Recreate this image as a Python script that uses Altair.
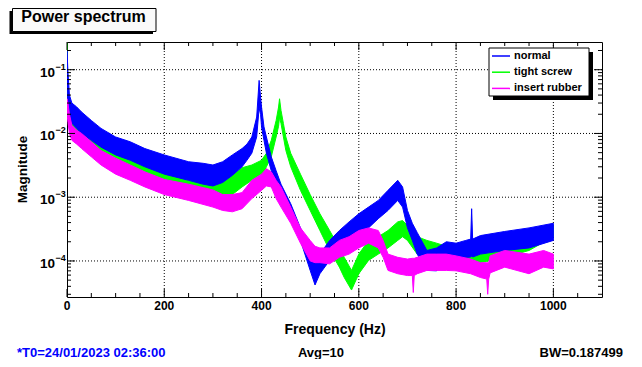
import altair as alt
import pandas as pd

# ---------------- data ----------------
series_names = ["normal", "tight screw", "insert rubber"]
series_colors = ["#0000ff", "#00ff00", "#ff00ff"]

# noise band of each trace: upper (hi) and lower (lo) envelope, per frequency (Hz)
normal_freq = [0, 2, 5, 10, 20, 30, 50, 70, 100, 130, 160, 200, 250, 280, 300, 320, 340, 360, 370, 380,
               390, 395, 398, 400, 405, 410, 420, 430, 440, 460, 480, 500, 510, 520, 540, 560, 580, 600, 620, 640,
               660, 680, 690, 700, 710, 720, 740, 760, 780, 800, 820, 830, 832, 834, 850, 900, 950, 1000]
normal_hi = [0.2, 0.09, 0.04, 0.03, 0.026, 0.0217, 0.016, 0.012, 0.0088, 0.0074,
             0.0058, 0.0046, 0.0036, 0.0034, 0.0032, 0.0036, 0.0046, 0.0058, 0.0068, 0.0088,
             0.0181, 0.068, 0.037, 0.026, 0.0127, 0.0088, 0.0043, 0.0026, 0.0016, 0.00079,
             0.00033, 0.00016, 0.000114, 0.000128, 0.00021, 0.0003, 0.00041, 0.00055, 0.0007, 0.00089,
             0.00128, 0.00184, 0.00145, 0.00062, 0.00039, 0.00028, 0.000146, 0.00016, 0.0002, 0.00019,
             0.00021, 0.00022, 0.00066, 0.00022, 0.00025, 0.00029, 0.00033, 0.00039]
normal_lo = [0.05, 0.03, 0.018, 0.0145, 0.012, 0.010, 0.0078, 0.0061, 0.0046, 0.0038,
             0.0030, 0.0023, 0.00184, 0.0016, 0.0015, 0.0017, 0.0022, 0.0030, 0.0038, 0.0049,
             0.0088, 0.025, 0.02, 0.0127, 0.0078, 0.0049, 0.0026, 0.0016, 0.00095, 0.00043,
             0.00021, 7.1e-5, 4.2e-5, 6.3e-5, 0.000102, 0.000146, 0.00021, 0.00028, 0.00033, 0.00046,
             0.00062, 0.00089, 0.0007, 0.00033, 0.00021, 0.000128, 7.1e-5, 7e-5, 0.0001, 0.0001,
             0.000114, 0.000115, 0.00012, 0.000115, 0.000128, 0.000146, 0.00016, 0.00021]

tight_freq = [0, 2, 5, 10, 20, 30, 50, 70, 100, 119, 121, 123, 130, 160, 200, 250, 300, 340, 360, 380,
              400, 410, 420, 430, 435, 437, 440, 445, 450, 460, 480, 500, 520, 540, 560, 570, 585, 600, 620, 640,
              660, 680, 690, 700, 720, 740, 760, 780, 800, 850, 900, 950, 1000]
tight_hi = [0.26, 0.05, 0.025, 0.019, 0.016, 0.0152, 0.012, 0.0088, 0.0061, 0.0055,
            0.0078, 0.0055, 0.0049, 0.0041, 0.0032, 0.0026, 0.0023, 0.0023, 0.0029, 0.0032,
            0.0038, 0.0049, 0.0078, 0.016, 0.026, 0.035, 0.023, 0.0143, 0.0088, 0.0049,
            0.0023, 0.0011, 0.00055, 0.0003, 0.00016, 0.000114, 7.1e-5, 0.000128, 0.00021, 0.00024,
            0.0003, 0.00041, 0.00043, 0.00036, 0.00024, 0.00021, 0.00019, 0.00017, 0.00016, 0.00019,
            0.00021, 0.00028, 0.00036]
tight_lo = [0.08, 0.02, 0.012, 0.010, 0.0084, 0.0074, 0.0061, 0.0046, 0.0034, 0.0031,
            0.0031, 0.0030, 0.0026, 0.0022, 0.0016, 0.00128, 0.0011, 0.0011, 0.00145, 0.00184,
            0.0021, 0.003, 0.0043, 0.0088, 0.013, 0.018, 0.0143, 0.0088, 0.0054, 0.003,
            0.00128, 0.00062, 0.0003, 0.000146, 8e-5, 5.5e-5, 3.5e-5, 6.3e-5, 0.000102, 0.000128,
            0.00016, 0.00021, 0.00024, 0.00021, 0.000128, 0.000114, 0.000114, 0.0001, 9e-5, 9.4e-5,
            0.000114, 0.000146, 0.00024]

rubber_freq = [0, 2, 5, 10, 20, 30, 50, 70, 100, 130, 160, 200, 250, 300, 320, 340, 360, 380, 400, 410,
               420, 430, 440, 460, 480, 500, 510, 520, 540, 560, 580, 600, 620, 640, 650, 660, 680, 700, 710, 712,
               714, 720, 740, 760, 780, 800, 830, 850, 863, 865, 867, 870, 900, 950, 980, 1000]
rubber_hi = [0.035, 0.03, 0.02, 0.0134, 0.0112, 0.010, 0.0074, 0.0054, 0.0041, 0.0032,
             0.0025, 0.0019, 0.0016, 0.0013, 0.0011, 0.0011, 0.00118, 0.00184, 0.0023, 0.0028,
             0.0025, 0.00184, 0.00145, 0.0007, 0.00033, 0.00021, 0.00017, 0.00016, 0.00016, 0.00021,
             0.00024, 0.0003, 0.00033, 0.0003, 0.00021, 0.000128, 0.000114, 0.000107, 0.00011, 0.00011,
             0.00011, 0.000114, 0.000128, 0.000128, 0.000128, 0.00012, 0.000107, 9.4e-5, 9.4e-5, 9.4e-5,
             9.4e-5, 0.00012, 0.000146, 0.000128, 0.000146, 0.000128]
rubber_lo = [0.02, 0.015, 0.01, 0.0078, 0.0068, 0.0058, 0.0043, 0.0032, 0.0023, 0.00184,
             0.00145, 0.0011, 0.00089, 0.0007, 0.00062, 0.00059, 0.00066, 0.00095, 0.00128, 0.0015,
             0.00145, 0.00095, 0.0007, 0.00039, 0.00019, 0.0001, 9.4e-5, 9.4e-5, 9e-5, 0.000114,
             0.000128, 0.00016, 0.00019, 0.00016, 0.000114, 7.1e-5, 6.3e-5, 5.9e-5, 5.9e-5, 3.2e-5,
             5.9e-5, 6.3e-5, 7.1e-5, 7.1e-5, 7.1e-5, 7e-5, 6.3e-5, 5.5e-5, 5.2e-5, 3.0e-5,
             5.2e-5, 6.5e-5, 8e-5, 6.3e-5, 8e-5, 7.5e-5]

# axes
x_domain = [0, 1100]
y_domain = [2.72e-5, 0.272]
x_major = [0, 200, 400, 600, 800, 1000]
x_labels = ["0", "200", "400", "600", "800", "1000"]
x_minor = [50, 100, 150, 250, 300, 350, 450, 500, 550, 650, 700, 750, 850, 900, 950, 1050]
y_decades = [1e-4, 1e-3, 1e-2, 1e-1]
y_exponents = ["\u22124", "\u22123", "\u22122", "\u22121"]
y_minor = [3e-5, 4e-5, 5e-5, 6e-5, 7e-5, 8e-5, 9e-5,
           2e-4, 3e-4, 4e-4, 5e-4, 6e-4, 7e-4, 8e-4, 9e-4,
           2e-3, 3e-3, 4e-3, 5e-3, 6e-3, 7e-3, 8e-3, 9e-3,
           2e-2, 3e-2, 4e-2, 5e-2, 6e-2, 7e-2, 8e-2, 9e-2,
           2e-1]

title_text = "Power spectrum"
x_title = "Frequency (Hz)"
y_title = "Magnitude"
info_left = "*T0=24/01/2023 02:36:00"
info_mid = "Avg=10"
info_right = "BW=0.187499"

# ---------------- chart ----------------
W, H = 535, 255
FONT = "Liberation Sans"
xs = alt.Scale(domain=x_domain, nice=False, zero=False)
ys = alt.Scale(type="log", domain=y_domain, nice=False)
one = pd.DataFrame({"k": [0]})


def X(field):
    return alt.X(field, type="quantitative", scale=xs, axis=None)


def Y(field):
    return alt.Y(field, type="quantitative", scale=ys, axis=None)


layers = []

# dotted grid
gx = pd.DataFrame({"f": x_major[1:]})
gy = pd.DataFrame({"v": y_decades})
layers.append(alt.Chart(gx).mark_rule(color="black", strokeDash=[1, 2], strokeWidth=1)
              .encode(x=X("f"), y=alt.value(0), y2=alt.value(H)))
layers.append(alt.Chart(gy).mark_rule(color="black", strokeDash=[1, 2], strokeWidth=1)
              .encode(y=Y("v"), x=alt.value(0), x2=alt.value(W)))

# traces (noise bands)
traces = {
    "tight screw": (tight_freq, tight_hi, tight_lo),
    "normal": (normal_freq, normal_hi, normal_lo),
    "insert rubber": (rubber_freq, rubber_hi, rubber_lo),
}
for name in ["tight screw", "normal", "insert rubber"]:
    fr, hi, lo = traces[name]
    col = series_colors[series_names.index(name)]
    df = pd.DataFrame({"f": fr, "hi": hi, "lo": lo})
    layers.append(alt.Chart(df).mark_area(color=col, stroke=col, strokeWidth=1, clip=True,
                                          interpolate="linear", opacity=1)
                  .encode(x=X("f"), y=alt.Y("hi:Q", scale=ys, axis=None, stack=None), y2="lo:Q"))

# ticks (inside, on all four sides)
dxM = pd.DataFrame({"f": x_major})
dxm = pd.DataFrame({"f": x_minor})
dyM = pd.DataFrame({"v": y_decades})
dym = pd.DataFrame({"v": y_minor})
for d, ln in [(dxM, 8), (dxm, 4)]:
    layers.append(alt.Chart(d).mark_rule(color="black", strokeWidth=1)
                  .encode(x=X("f"), y=alt.value(H), y2=alt.value(H - ln)))
    layers.append(alt.Chart(d).mark_rule(color="black", strokeWidth=1)
                  .encode(x=X("f"), y=alt.value(0), y2=alt.value(ln)))
for d, ln in [(dyM, 8), (dym, 4)]:
    layers.append(alt.Chart(d).mark_rule(color="black", strokeWidth=1)
                  .encode(y=Y("v"), x=alt.value(0), x2=alt.value(ln)))
    layers.append(alt.Chart(d).mark_rule(color="black", strokeWidth=1)
                  .encode(y=Y("v"), x=alt.value(W), x2=alt.value(W - ln)))

# tick labels
dxl = pd.DataFrame({"f": x_major, "t": x_labels})
layers.append(alt.Chart(dxl).mark_text(font=FONT, fontWeight="bold", fontSize=12, baseline="middle",
                                       align="center", color="black")
              .encode(x=X("f"), y=alt.value(264), text="t:N"))
dyl = pd.DataFrame({"v": y_decades, "e": y_exponents})
layers.append(alt.Chart(dyl).mark_text(font=FONT, fontWeight="bold", fontSize=13.5, baseline="alphabetic",
                                       align="right", dy=7, color="black")
              .encode(y=Y("v"), x=alt.value(-12), text=alt.value("10")))
layers.append(alt.Chart(dyl).mark_text(font=FONT, fontWeight="bold", fontSize=9, baseline="alphabetic",
                                       align="left", dy=0, color="black")
              .encode(y=Y("v"), x=alt.value(-11.5), text="e:N"))

# axis titles and info line
def txt(s, x, y, size, align="center", color="black", angle=0, baseline="middle"):
    kw = dict(font=FONT, fontWeight="bold", fontSize=size, align=align, baseline=baseline, color=color)
    if angle:
        kw["angle"] = angle
    return alt.Chart(one).mark_text(**kw).encode(x=alt.value(x), y=alt.value(y), text=alt.value(s))


layers.append(txt(x_title, 268, 288, 14))
layers.append(txt(y_title, -44, 127.5, 13.5, angle=270))
layers.append(txt(info_left, -50, 311, 13, align="left", color="#0000ff"))
layers.append(txt(info_mid, 254, 311, 13))
layers.append(txt(info_right, 556, 311, 13, align="right"))


def box(x1, x2, y1, y2, fill, stroke=None):
    kw = dict(fill=fill)
    if stroke:
        kw.update(stroke=stroke, strokeWidth=1)
    return alt.Chart(one).mark_rect(**kw).encode(x=alt.value(x1), x2=alt.value(x2),
                                                  y=alt.value(y1), y2=alt.value(y2))


# title box with shadow
layers.append(box(-57.5, 86, -31, -8, "black"))
layers.append(box(-54.5, 89, -33.5, -10.5, "#fafafa", "black"))
layers.append(txt(title_text, 16.5, -20, 16, baseline="alphabetic"))

# legend box with shadow
layers.append(box(426, 526, 10, 58, "black"))
layers.append(box(422, 522, 6, 54, "white", "black"))
for i, (name, col) in enumerate(zip(series_names, series_colors)):
    yy = 14 + 16.2 * i
    layers.append(alt.Chart(one).mark_rule(color=col, strokeWidth=1.5)
                  .encode(x=alt.value(425), x2=alt.value(443), y=alt.value(yy)))
    layers.append(txt(name, 447, yy, 11, align="left"))

chart = alt.layer(*layers).properties(
    width=W, height=H,
    autosize=alt.AutoSizeParams(type="none"),
    padding={"left": 59, "top": 34, "right": 32, "bottom": 62},
    background="white",
).configure_view(stroke="black", strokeWidth=1)

chart.save("out.html", embed_options={"renderer": "svg", "actions": False})
